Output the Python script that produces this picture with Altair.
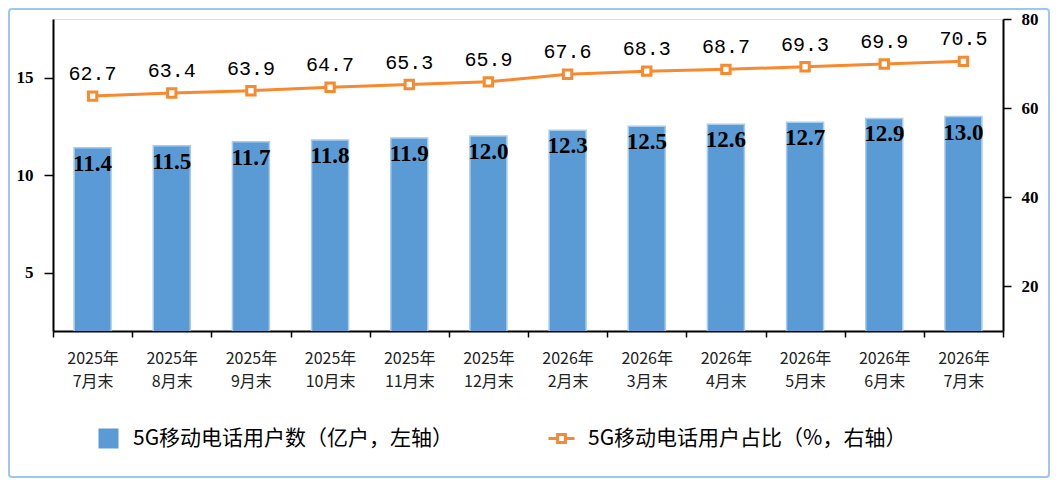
import altair as alt
import pandas as pd

cats = ["2025年7月末", "2025年8月末", "2025年9月末", "2025年10月末", "2025年11月末", "2025年12月末",
        "2026年2月末", "2026年3月末", "2026年4月末", "2026年5月末", "2026年6月末", "2026年7月末"]
users = [11.4, 11.5, 11.7, 11.8, 11.9, 12.0, 12.3, 12.5, 12.6, 12.7, 12.9, 13.0]
share = [62.7, 63.4, 63.9, 64.7, 65.3, 65.9, 67.6, 68.3, 68.7, 69.3, 69.9, 70.5]

name_users = "5G移动电话用户数（亿户，左轴）"
name_share = "5G移动电话用户占比（%，右轴）"

BLUE = "#5B9BD5"
ORANGE = "#F7892F"
SERIF = "Liberation Serif"

df = pd.DataFrame({"cat": cats, "users": users, "share": share,
                   "s_users": [name_users] * len(cats), "s_share": [name_share] * len(cats)})

x_enc = alt.X("cat:N", sort=cats,
              scale=alt.Scale(domain=cats, paddingInner=0, paddingOuter=0),
              axis=alt.Axis(title=None, labelAngle=0, tickBand="extent", tickSize=6,
                            tickColor="black", tickWidth=1.5, domainColor="black", domainWidth=2,
                            labelFont="Noto Sans CJK SC", labelFontSize=16, labelColor="#222222",
                            labelPadding=13, labelLineHeight=23,
                            labelExpr="[slice(datum.label, 0, indexof(datum.label, '年') + 1), slice(datum.label, indexof(datum.label, '年') + 1)]"))

y_left = alt.Y("users:Q", scale=alt.Scale(domain=[2, 18], nice=False, zero=False),
               axis=alt.Axis(title=None, values=[5, 10, 15], grid=False, orient="left",
                             domainColor="black", domainWidth=2, tickColor="black", tickWidth=1.5,
                             tickSize=9, labelPadding=11, labelFont=SERIF,
                             labelFontWeight="bold", labelFontSize=17, labelColor="black"))

y_right = alt.Y("share:Q", scale=alt.Scale(domain=[10, 80], nice=False, zero=False),
                axis=alt.Axis(title=None, values=[20, 40, 60, 80], grid=False, orient="right",
                              domainColor="black", domainWidth=2, tickColor="black", tickWidth=1.5,
                              tickSize=8, labelPadding=10, labelFont=SERIF,
                              labelFontWeight="bold", labelFontSize=17, labelColor="black"))

base = alt.Chart(df)

bars = base.mark_bar(size=37, stroke="#A8CCEE", strokeWidth=1.5, clip=True).encode(
    x=x_enc, y=y_left,
    color=alt.Color("s_users:N", scale=alt.Scale(domain=[name_users], range=[BLUE]),
                    legend=alt.Legend(title=None, orient="none", legendX=45, legendY=409,
                                      symbolType="square", symbolSize=400, symbolStrokeWidth=0,
                                      labelFont="Noto Sans CJK SC", labelFontSize=21,
                                      labelColor="black", labelOffset=14, padding=0,
                                      labelLimit=600)))

bar_text = base.mark_text(baseline="top", dy=5, font=SERIF, fontWeight="bold",
                          fontSize=23, color="black").encode(
    x=x_enc, y=y_left, text=alt.Text("users:Q", format=".1f"))

line = base.mark_line(strokeWidth=3).encode(
    x=x_enc, y=y_right,
    color=alt.Color("s_share:N", scale=alt.Scale(domain=[name_share], range=[ORANGE]),
                    legend=alt.Legend(title=None, orient="none", legendX=494, legendY=405,
                                      symbolType="M-1,0H-0.4M0.4,0H1M-0.3,-0.3H0.3V0.3H-0.3Z",
                                      symbolSize=676, symbolStrokeWidth=3,
                                      symbolStrokeColor=ORANGE, symbolFillColor="white",
                                      labelFont="Noto Sans CJK SC", labelFontSize=21,
                                      labelColor="black", labelOffset=12, padding=0,
                                      labelLimit=600)))

points = base.mark_point(shape="square", size=70, filled=True, fill="white", stroke=ORANGE,
                         strokeWidth=3, opacity=1).encode(x=x_enc, y=y_right)

line_text = base.mark_text(baseline="bottom", dy=-12, font="Liberation Mono", fontSize=20,
                           color="black").encode(
    x=x_enc, y=y_right, text=alt.Text("share:Q", format=".1f"))

frame = alt.Chart(pd.DataFrame({"k": [0]})).mark_rect(
    fill="transparent", stroke="#9CC8F0", strokeWidth=2, cornerRadius=3).encode(
    x=alt.value(-44), x2=alt.value(996), y=alt.value(-10), y2=alt.value(458))

left = alt.layer(bars, bar_text)
right = alt.layer(line, points, line_text)

chart = alt.layer(left, right, frame).resolve_scale(
    y="independent", color="independent"
).properties(
    width=950, height=312,
    padding={"left": 45, "top": 11, "right": 47, "bottom": 147},
    autosize=alt.AutoSizeParams(type="none"),
).configure_view(stroke=None).configure(background="white")

chart.save("out.html", embed_options={"renderer": "svg", "actions": False})
